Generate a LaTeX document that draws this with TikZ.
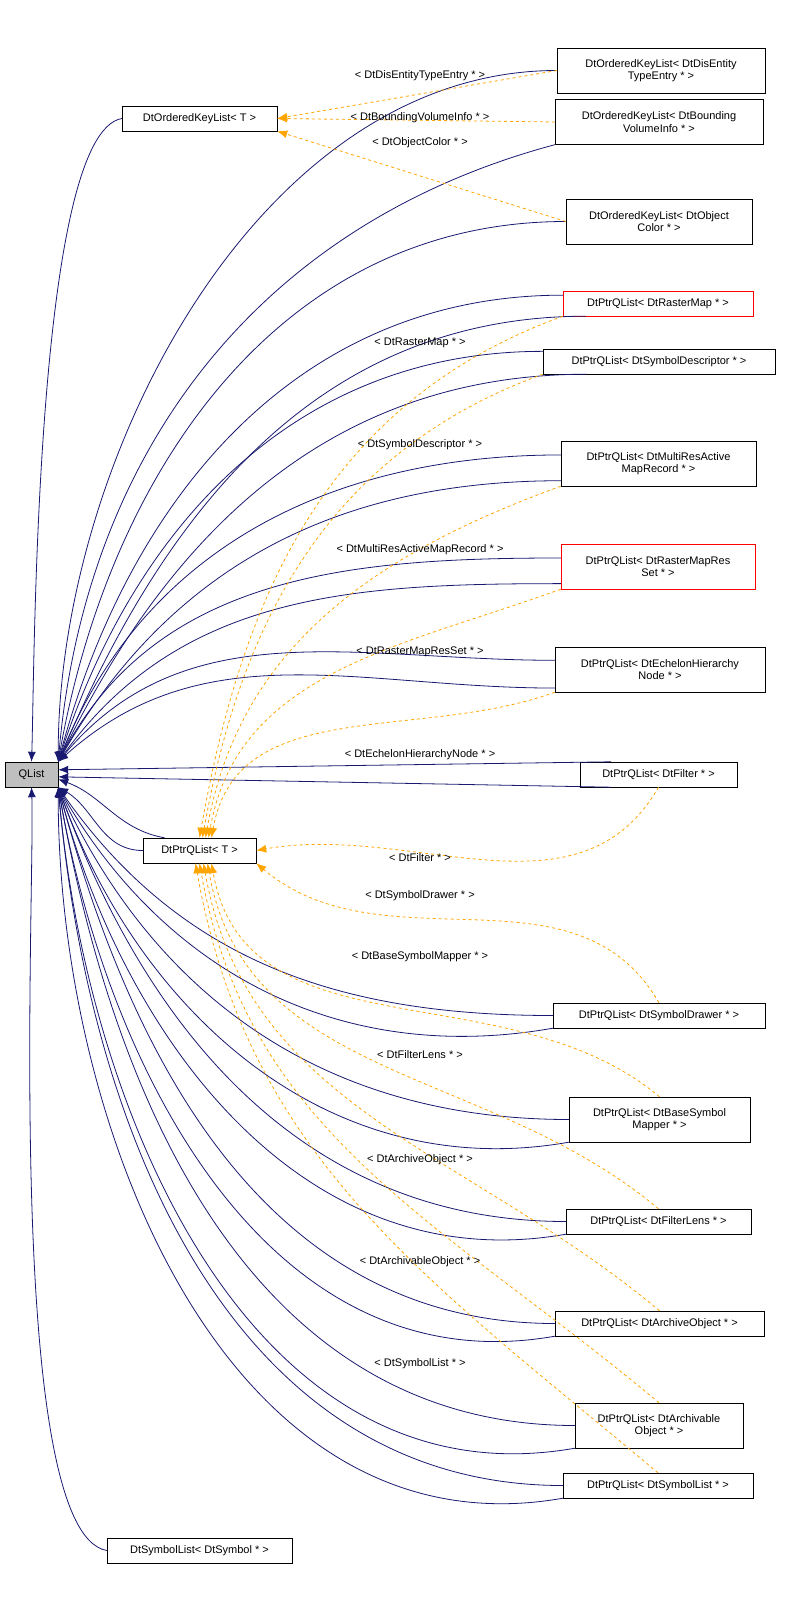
\documentclass[tikz,border=0pt]{standalone}
\usepackage{fontspec}
\setmainfont{Liberation Sans}
\usetikzlibrary{arrows.meta}
\definecolor{edgenavy}{RGB}{25,25,112}
\definecolor{edgeorange}{RGB}{255,165,0}
\tikzset{
  box/.style={draw, fill=white, font=\fontsize{11}{12.5}\selectfont, align=center, inner sep=2pt, minimum height=25pt},
  redbox/.style={box, draw=red},
  inh/.style={-{Latex[length=10pt,width=8pt]}, draw=edgenavy, line width=0.8pt},
  tmpl/.style={-{Latex[length=10pt,width=8pt]}, draw=edgeorange, dashed, line width=0.8pt},
  lbl/.style={font=\fontsize{11}{12.5}\selectfont},
}
\begin{document}
\begin{tikzpicture}[x=1pt,y=-1pt]
  \useasboundingbox (0,0) rectangle (797,1605);
  % base classes
  \node[box, fill=black!25, minimum width=53pt] (qlist) at (31.5,774.5) {QList};
  \node[box, minimum width=155pt] (okt) at (199.5,118.5) {DtOrderedKeyList< T >};
  \node[box, minimum width=113pt] (ptrT) at (199.5,850.5) {DtPtrQList< T >};
  \node[box, minimum width=185pt] (symlist) at (199.5,1550.5) {DtSymbolList< DtSymbol * >};
  % instantiations
  \node[box, minimum width=208pt, minimum height=45pt] (n1) at (661,70.5) {DtOrderedKeyList< DtDisEntity\\TypeEntry * >};
  \node[box, minimum width=208pt, minimum height=45pt] (n2) at (659,122) {DtOrderedKeyList< DtBounding\\VolumeInfo * >};
  \node[box, minimum width=186pt, minimum height=45pt] (n3) at (659,221.5) {DtOrderedKeyList< DtObject\\Color * >};
  \node[redbox, minimum width=190pt] (n4) at (658,303.5) {DtPtrQList< DtRasterMap * >};
  \node[box, minimum width=232pt] (n5) at (659,361.5) {DtPtrQList< DtSymbolDescriptor * >};
  \node[box, minimum width=195pt, minimum height=45pt] (n6) at (658.5,463.5) {DtPtrQList< DtMultiResActive\\MapRecord * >};
  \node[redbox, minimum width=194pt, minimum height=45pt] (n7) at (658,566.5) {DtPtrQList< DtRasterMapRes\\Set * >};
  \node[box, minimum width=210pt, minimum height=45pt] (n8) at (660,669.5) {DtPtrQList< DtEchelonHierarchy\\Node * >};
  \node[box, minimum width=157pt] (n9) at (658.5,774.5) {DtPtrQList< DtFilter * >};
  \node[box, minimum width=212pt] (n10) at (659,1015.5) {DtPtrQList< DtSymbolDrawer * >};
  \node[box, minimum width=181pt, minimum height=45pt] (n11) at (659.5,1119.5) {DtPtrQList< DtBaseSymbol\\Mapper * >};
  \node[box, minimum width=185pt] (n12) at (658.5,1221.5) {DtPtrQList< DtFilterLens * >};
  \node[box, minimum width=209pt] (n13) at (659.5,1323.5) {DtPtrQList< DtArchiveObject * >};
  \node[box, minimum width=168pt, minimum height=45pt] (n14) at (659,1425.5) {DtPtrQList< DtArchivable\\Object * >};
  \node[box, minimum width=190pt] (n15) at (658,1485.5) {DtPtrQList< DtSymbolList * >};

  % inheritance from QList
  \draw[inh] (n1.west) to[out=180,in=90,looseness=0.9] (qlist.north east);
  \draw[inh] (n2.south west) to[out=195,in=85] (qlist.north east);
  \draw[inh] (n3.west) to[out=180,in=80] (qlist.north east);
  \draw[inh] (okt.west) to[out=190,in=88,looseness=0.35] (qlist.north);
  \foreach \n/\a in {n4/75,n5/72,n6/68,n7/62,n8/50}{
    \draw[inh] (\n.175) to[out=180,in=\a] (qlist.north east);
    \draw[inh] (\n.190) to[out=180,in=\a-8] (qlist.north east);
  }
  \draw[inh] (n9.165) -- (qlist.10);
  \draw[inh] (n9.195) -- (qlist.-5);
  \draw[inh] (ptrT.160) to[out=170,in=-20] (qlist.-10);
  \draw[inh] (ptrT.west) to[out=180,in=-30] (qlist.south east);
  \foreach \n/\a in {n10/-55,n11/-65,n12/-70,n13/-75,n14/-80,n15/-85}{
    \draw[inh] (\n.west) to[out=180,in=\a] (qlist.south east);
    \draw[inh] (\n.south west) to[out=190,in=\a-5] (qlist.south east);
  }
  \draw[inh] (symlist.west) to[out=170,in=-88,looseness=0.35] (qlist.south);

  % template instantiation
  \draw[tmpl] (n1.west) -- (okt.east);
  \draw[tmpl] (n2.west) -- (okt.east);
  \draw[tmpl] (n3.west) -- (okt.south east);
  \foreach \n/\x in {n4/0,n5/3,n6/6,n7/9,n8/12}{
    \draw[tmpl] (\n.south west) to[out=200,in=80] ([xshift=\x pt]ptrT.north);
  }
  \draw[tmpl] (n9.south) to[out=-120,in=10] (ptrT.east);
  \draw[tmpl] (n10.north) to[out=120,in=-40] (ptrT.south east);
  \foreach \n/\x in {n11/12,n12/8,n13/4,n14/0,n15/-4}{
    \draw[tmpl] (\n.north) to[out=140,in=-80] ([xshift=\x pt]ptrT.south);
  }

  % labels
  \node[lbl] (l1) at (420,76) {< DtDisEntityTypeEntry * >};
  \node[lbl] (l2) at (420,118) {< DtBoundingVolumeInfo * >};
  \node[lbl] (l3) at (420,143) {< DtObjectColor * >};
  \node[lbl] (l4) at (420,343) {< DtRasterMap * >};
  \node[lbl] (l5) at (420,445) {< DtSymbolDescriptor * >};
  \node[lbl] (l6) at (420,550) {< DtMultiResActiveMapRecord * >};
  \node[lbl] (l7) at (420,652) {< DtRasterMapResSet * >};
  \node[lbl] (l8) at (420,755) {< DtEchelonHierarchyNode * >};
  \node[lbl] (l9) at (420,858) {< DtFilter * >};
  \node[lbl] (l10) at (420,896) {< DtSymbolDrawer * >};
  \node[lbl] (l11) at (420,957) {< DtBaseSymbolMapper * >};
  \node[lbl] (l12) at (420,1055) {< DtFilterLens * >};
  \node[lbl] (l13) at (420,1160) {< DtArchiveObject * >};
  \node[lbl] (l14) at (420,1262) {< DtArchivableObject * >};
  \node[lbl] (l15) at (420,1364) {< DtSymbolList * >};
\end{tikzpicture}
\end{document}
